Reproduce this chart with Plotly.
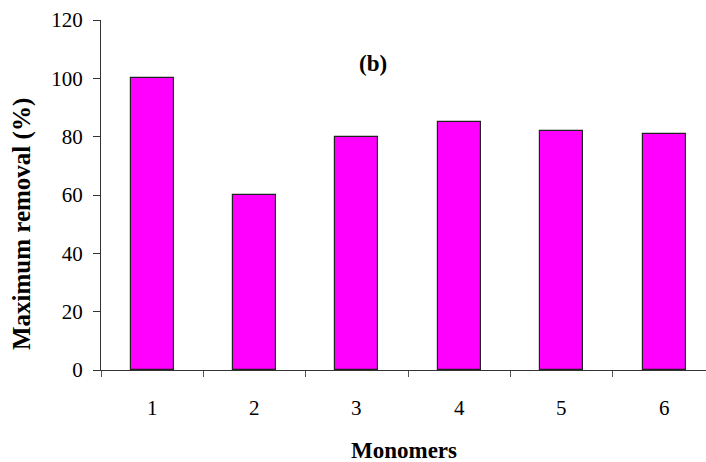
import plotly.graph_objects as go

categories = ["1", "2", "3", "4", "5", "6"]
removal = [100, 60, 80, 85, 82, 81]
y_ticks = [0, 20, 40, 60, 80, 100, 120]

xpos = list(range(len(categories)))
font_family = "Liberation Serif, Times New Roman, serif"

fig = go.Figure()
fig.add_trace(go.Bar(
    x=xpos, y=removal, width=0.42,
    marker=dict(color="#FF00FF", line=dict(color="#222222", width=1.2)),
    showlegend=False, hoverinfo="skip",
))

boundaries = [i - 0.5 for i in range(len(categories) + 1)]

fig.update_layout(
    width=706, height=462,
    margin=dict(l=101, r=0, t=20, b=92),
    paper_bgcolor="white", plot_bgcolor="white",
    bargap=0,
    xaxis=dict(
        range=[-0.5, 5.41], tickmode="array", tickvals=boundaries,
        ticktext=[""] * len(boundaries), ticks="outside", ticklen=6,
        tickcolor="#555555", showline=True, linecolor="#333333", linewidth=1.2,
        showgrid=False, zeroline=False,
    ),
    yaxis=dict(
        range=[0, 120], tickmode="array", tickvals=y_ticks,
        ticks="outside", ticklen=7, tickcolor="#333333",
        showline=True, linecolor="#333333", linewidth=1.2,
        showgrid=False, zeroline=False, ticklabelstandoff=6,
        tickfont=dict(family=font_family, size=21, color="black"),
    ),
)

for i, c in enumerate(categories):
    fig.add_annotation(x=i, y=0, xref="x", yref="y", text=c, showarrow=False,
                       yshift=-38, yanchor="middle",
                       font=dict(family=font_family, size=21, color="black"))

fig.add_annotation(x=0.5, y=0, xref="paper", yref="paper", text="<b>Monomers</b>",
                   showarrow=False, yshift=-80, yanchor="middle",
                   font=dict(family=font_family, size=23, color="black"))
fig.add_annotation(x=0, y=0.417, xref="paper", yref="paper",
                   text="<b>Maximum removal (%)</b>", textangle=-90,
                   showarrow=False, xshift=-79, xanchor="center", yanchor="middle",
                   font=dict(family=font_family, size=25, color="black"))
fig.add_annotation(x=0.4496, y=0.877, xref="paper", yref="paper", text="<b>(b)</b>",
                   showarrow=False, xanchor="center", yanchor="middle",
                   font=dict(family=font_family, size=23, color="black"))

fig.write_html("out.html", config={"displayModeBar": False},
               post_script="document.body.style.margin='0';document.body.style.overflow='hidden';")
